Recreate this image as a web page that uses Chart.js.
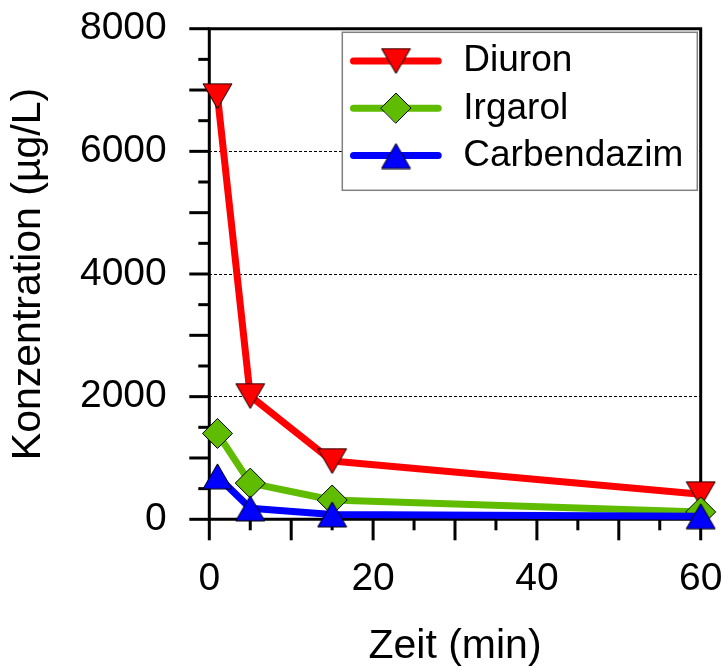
<!DOCTYPE html>
<html><head><meta charset="utf-8">
<script src="https://cdn.jsdelivr.net/npm/chart.js@4"></script>
<style>html,body{margin:0;padding:0;background:#fff;} canvas{display:block;}</style>
</head><body>
<canvas id="c" width="725" height="669"></canvas>
<script>
const times = [1, 5, 15, 60];
const diuron = [6900, 2010, 950, 410];
const irgarol = [1400, 590, 315, 120];
const carbendazim = [700, 180, 80, 50];
const seriesNames = ['Diuron', 'Irgarol', 'Carbendazim'];
const xTickLabels = [0, 20, 40, 60];
const yTickLabels = [0, 2000, 4000, 6000, 8000];
const gridValues = [2000, 4000, 6000];
const xTitle = 'Zeit (min)';
const yTitle = 'Konzentration (µg/L)';

const FONT = '"Liberation Sans", Arial, sans-serif';
function pts(ys) { return times.map((t, i) => ({x: t, y: ys[i]})); }

// triangle symbol centred on its bounding box (as in the original plotting tool)
function triSymbol(color, down) {
  const W = 31, H = 27;
  const c = document.createElement('canvas');
  c.width = W; c.height = H;
  const g = c.getContext('2d');
  g.beginPath();
  if (down) { g.moveTo(1, 1); g.lineTo(W - 1, 1); g.lineTo(W / 2, H - 1); }
  else { g.moveTo(W / 2, 1); g.lineTo(W - 1, H - 1); g.lineTo(1, H - 1); }
  g.closePath();
  g.fillStyle = color; g.fill();
  g.lineWidth = 1; g.strokeStyle = '#000'; g.lineJoin = 'miter'; g.stroke();
  return c;
}

const frameTicks = {
  id: 'frameTicks',
  beforeDatasetsDraw(chart) {
    const {ctx, chartArea: a, scales: {x, y}} = chart;
    ctx.save();
    ctx.strokeStyle = '#000';
    ctx.lineWidth = 3;
    ctx.lineCap = 'butt';
    ctx.lineJoin = 'miter';
    ctx.beginPath();
    ctx.rect(a.left, a.top, a.right - a.left, a.bottom - a.top);
    ctx.stroke();
    for (let v = y.min; v <= y.max; v += 500) {
      const py = y.getPixelForValue(v);
      const len = (v % 1000 === 0) ? 20 : 11;
      ctx.beginPath(); ctx.moveTo(a.left - len, py); ctx.lineTo(a.left, py); ctx.stroke();
    }
    for (let v = x.min; v <= x.max; v += 5) {
      const px = x.getPixelForValue(v);
      const len = (v % 10 === 0) ? 21 : 11;
      ctx.beginPath(); ctx.moveTo(px, a.bottom); ctx.lineTo(px, a.bottom + len); ctx.stroke();
    }
    ctx.restore();
  }
};

const legendBox = {
  id: 'legendBox',
  afterDatasetsDraw(chart) {
    const {ctx, chartArea: a} = chart;
    const w = 355, h = 158;
    const bx = a.right - 3.4 - w, by = a.top + 3.6;
    ctx.save();
    ctx.fillStyle = '#fff';
    ctx.fillRect(bx, by, w, h);
    ctx.strokeStyle = '#808080';
    ctx.lineWidth = 1.5;
    ctx.strokeRect(bx, by, w, h);
    chart.data.datasets.forEach((ds, i) => {
      const cy = by + 28.7 + i * 47.3;
      ctx.strokeStyle = ds.borderColor;
      ctx.lineWidth = ds.borderWidth;
      ctx.lineCap = 'round';
      ctx.beginPath(); ctx.moveTo(bx + 11.2, cy); ctx.lineTo(bx + 95.9, cy); ctx.stroke();
      ctx.fillStyle = ds.backgroundColor;
      ctx.strokeStyle = '#000';
      ctx.lineWidth = 1;
      Chart.helpers.drawPoint(ctx, {pointStyle: ds.pointStyle, rotation: 0, radius: ds.pointRadius, borderWidth: 1}, Math.round(bx + 53.7), Math.round(cy));
      ctx.fillStyle = '#000';
      ctx.font = '37px ' + FONT;
      ctx.textAlign = 'left';
      ctx.textBaseline = 'middle';
      ctx.fillText(ds.label, bx + 121, cy);
    });
    ctx.restore();
  }
};

const common = {
  borderWidth: 7, pointBorderColor: '#000', pointBorderWidth: 1, pointHoverBorderWidth: 1,
  tension: 0, clip: false, borderJoinStyle: 'round', borderCapStyle: 'round', fill: false
};

new Chart(document.getElementById('c'), {
  type: 'line',
  data: {
    datasets: [
      Object.assign({label: seriesNames[0], data: pts(diuron), borderColor: '#FF0000', backgroundColor: '#FF0000',
        pointBackgroundColor: '#FF0000', pointStyle: triSymbol('#FF0000', true), pointRadius: 16, pointHoverRadius: 16, order: 2}, common),
      Object.assign({label: seriesNames[1], data: pts(irgarol), borderColor: '#60BC00', backgroundColor: '#60BC00',
        pointBackgroundColor: '#60BC00', pointStyle: 'rectRot', pointRadius: 15, pointHoverRadius: 15, order: 1}, common),
      Object.assign({label: seriesNames[2], data: pts(carbendazim), borderColor: '#0000FF', backgroundColor: '#0000FF',
        pointBackgroundColor: '#0000FF', pointStyle: triSymbol('#0000FF', false), pointRadius: 16, pointHoverRadius: 16, order: 0}, common)
    ]
  },
  options: {
    responsive: false, animation: false, devicePixelRatio: 1,
    layout: {padding: {top: 28.7, right: 24.3, left: 0, bottom: 0}},
    plugins: {legend: {display: false}, tooltip: {enabled: false}},
    events: [],
    scales: {
      x: {
        type: 'linear', min: 0, max: 60, position: 'bottom',
        afterFit(s) { s.height = 149.7; },
        ticks: {stepSize: 20, padding: 0, font: {family: FONT, size: 39}, color: '#000', maxRotation: 0, autoSkip: false,
          callback: v => xTickLabels.includes(v) ? String(v) : ''},
        grid: {display: false, drawTicks: true, tickLength: 37, tickColor: 'rgba(0,0,0,0)'},
        border: {display: false},
        title: {display: true, text: xTitle, color: '#000', font: {family: FONT, size: 41, lineHeight: 1}, padding: {top: 0, bottom: 2}}
      },
      y: {
        type: 'linear', min: 0, max: 8000, position: 'left',
        afterFit(s) { s.width = 209.3; },
        ticks: {stepSize: 2000, padding: 0, font: {family: FONT, size: 39}, color: '#000', autoSkip: false,
          callback: v => yTickLabels.includes(v) ? String(v) : ''},
        grid: {drawTicks: true, tickLength: 42.6, tickColor: 'rgba(0,0,0,0)', lineWidth: 1,
          color: c => (c.tick && gridValues.includes(c.tick.value)) ? '#000' : 'rgba(0,0,0,0)'},
        border: {display: false, dash: [3, 2]},
        title: {display: true, text: yTitle, color: '#000', font: {family: FONT, size: 41, lineHeight: 1}, padding: {top: 8.5, bottom: 0}}
      }
    }
  },
  plugins: [frameTicks, legendBox]
});
</script>
</body></html>
